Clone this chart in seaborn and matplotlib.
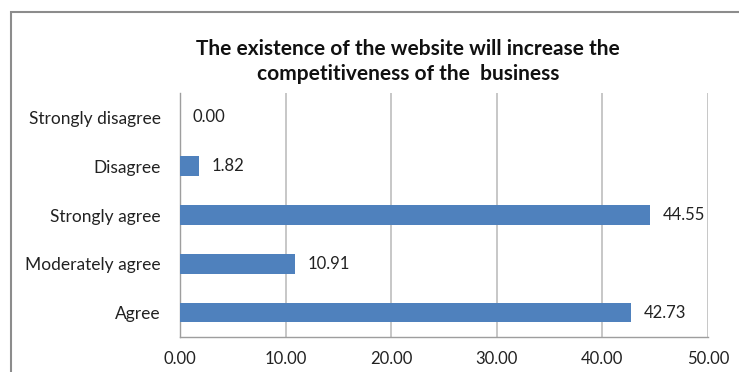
import matplotlib
matplotlib.use("Agg")
import matplotlib.pyplot as plt
import seaborn as sns
import pandas as pd
from matplotlib.patches import Rectangle
from matplotlib.ticker import FormatStrFormatter

categories = ["Strongly disagree", "Disagree", "Strongly agree", "Moderately agree", "Agree"]
values = [0.00, 1.82, 44.55, 10.91, 42.73]
x_ticks = [0, 10, 20, 30, 40, 50]
title = "The existence of the website will increase the\ncompetitiveness of the  business"

df = pd.DataFrame({"category": categories, "value": values})

sns.set_theme(style="white")
plt.rcParams["font.family"] = ["Lato", "DejaVu Sans"]

fig = plt.figure(figsize=(7.39, 3.72), dpi=100)
ax = fig.add_axes([0.2436, 0.094, 0.7145, 0.656])

sns.barplot(data=df, x="value", y="category", order=categories, orient="h",
            color="#4F81BD", saturation=1, width=0.4, ax=ax, zorder=3,
            linewidth=0, edgecolor="none")

ax.set_xlim(0, 50)
ax.set_xticks(x_ticks)
ax.xaxis.set_major_formatter(FormatStrFormatter("%.2f"))
ax.set_xlabel("")
ax.set_ylabel("")

# vertical gridlines
ax.grid(axis="x", color="#BDBDBD", linewidth=1.2, zorder=0)
ax.grid(axis="y", visible=False)

for side in ["top", "right"]:
    ax.spines[side].set_visible(False)
for side in ["left", "bottom"]:
    ax.spines[side].set_color("#9E9E9E")
    ax.spines[side].set_linewidth(1.0)

# category boundary ticks on the y axis
ax.set_yticks([i - 0.5 for i in range(len(categories) + 1)], minor=True)
ax.tick_params(axis="y", which="major", length=0, pad=14, labelsize=12.5, labelcolor="#222222")
ax.tick_params(axis="y", which="minor", length=5, color="#9E9E9E", width=1.0, direction="out")
ax.tick_params(axis="x", which="major", length=5, color="#9E9E9E", width=1.0, direction="out",
               labelsize=12, labelcolor="#222222", pad=5)
ax.set_ylim(len(categories) - 0.5, -0.5)

for container in ax.containers:
    ax.bar_label(container, fmt="%.2f", padding=9, fontsize=12, color="#222222")

fig.text(0.552, 0.835, title, ha="center", va="center", fontsize=15,
         fontweight="bold", linespacing=1.3, color="#111111")

# chart area frame
fig.patches.append(Rectangle((11 / 739, -0.1), 1.2, 1 - 12 / 372 + 0.1,
                             transform=fig.transFigure, fill=False,
                             edgecolor="#8C8C8C", linewidth=1.5))

fig.savefig("out.png", dpi=100)
